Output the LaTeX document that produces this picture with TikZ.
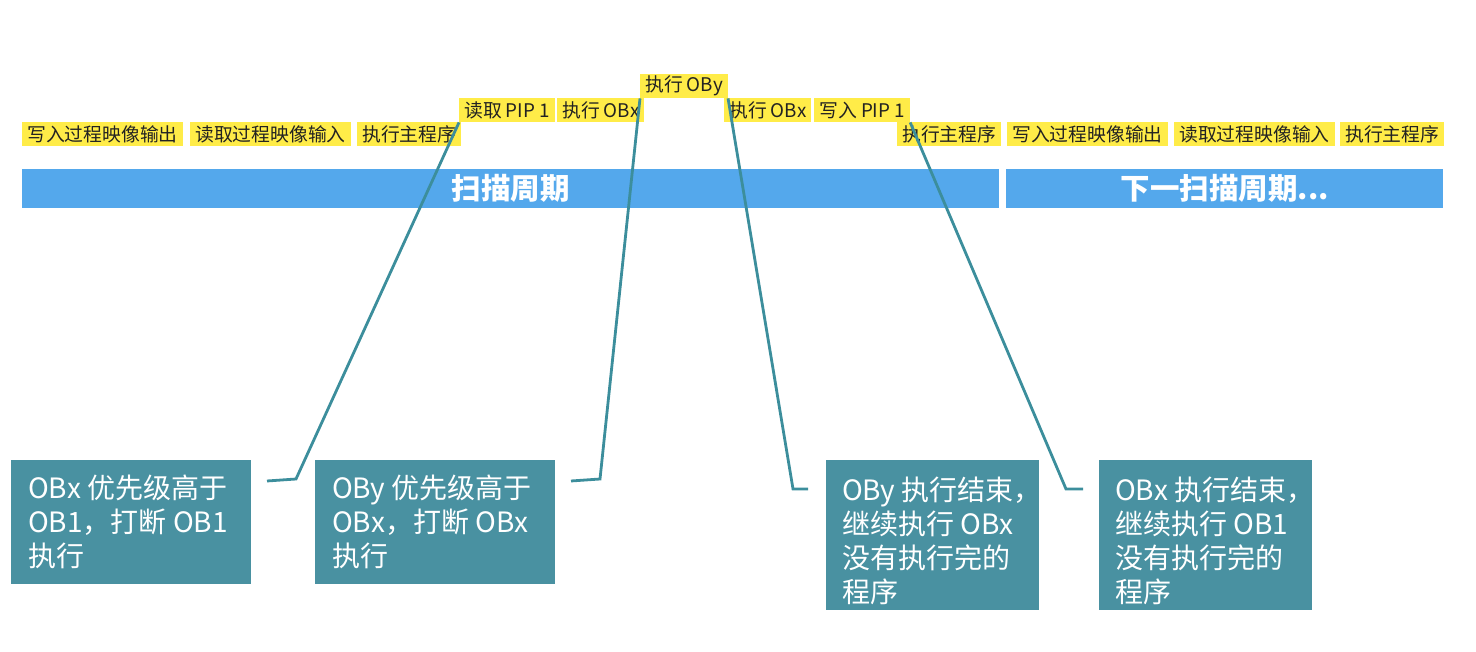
\documentclass[tikz,border=0pt]{standalone}
\usepackage{fontspec}
\setmainfont{Noto Sans CJK SC}
\begin{document}
\begin{tikzpicture}[x=1pt, y=-1pt, font=\fontsize{18.8}{22}\selectfont]

			% ==========================================
			% 1. COLOURS
			% ==========================================
			\definecolor{tagcol}{RGB}{255, 236, 72}     % yellow step tags
			\definecolor{barcol}{RGB}{84, 168, 236}     % blue cycle bars
			\definecolor{notecol}{RGB}{73, 145, 161}    % teal note boxes
			\definecolor{linecol}{RGB}{60, 142, 156}    % teal callout lines
			\definecolor{tagtext}{RGB}{34, 34, 34}

			% ==========================================
			% 2. STYLES
			% ==========================================
			\tikzset{
				tag/.style={fill=tagcol, text=tagtext, anchor=north west, inner xsep=5pt, inner ysep=0pt, minimum height=24pt},
				cyclebar/.style={fill=barcol, text=white, anchor=north west, minimum height=39pt, inner sep=0pt, font=\fontsize{29.5}{32}\selectfont\bfseries},
				notebox/.style={fill=notecol, anchor=north west, inner sep=0pt},
				notetext/.style={text=white, anchor=north west, align=left, inner sep=0pt, font=\fontsize{28}{34}\selectfont},
				callout/.style={draw=linecol, line width=2.8pt}
			}

			\useasboundingbox (0,0) rectangle (1476,652);

			% ==========================================
			% 3. STEP TAGS
			% ==========================================
			% lower row
			\node[tag] (wroutA) at (22,122) {写入过程映像输出};
			\node[tag] (rdinA) at (190,122) {读取过程映像输入};
			\node[tag] (mainA) at (357,122) {执行主程序};
			\node[tag] (mainB) at (897,122) {执行主程序};
			\node[tag] (wroutB) at (1007,122) {写入过程映像输出};
			\node[tag] (rdinB) at (1174,122) {读取过程映像输入};
			\node[tag] (mainC) at (1340,122) {执行主程序};

			% middle row
			\node[tag] (rdpip) at (459,98) {读取 PIP 1};
			\node[tag] (obxA) at (557,98) {执行 OBx};
			\node[tag] (obxB) at (724,98) {执行 OBx};
			\node[tag] (wrpip) at (814,98) {写入 PIP 1};

			% upper row
			\node[tag] (oby) at (640,74) {执行 OBy};

			% ==========================================
			% 4. CYCLE BARS
			% ==========================================
			\node[cyclebar, minimum width=977pt] (scan) at (22,169) {扫描周期};
			\node[cyclebar, minimum width=437pt] (nextscan) at (1006,169) {下一扫描周期...};

			% ==========================================
			% 5. NOTE BOXES
			% ==========================================
			\node[notebox, minimum width=240pt, minimum height=124pt] (noteA) at (11,460) {};
			\node[notebox, minimum width=240pt, minimum height=124pt] (noteB) at (315,460) {};
			\node[notebox, minimum width=213pt, minimum height=150pt] (noteC) at (826,460) {};
			\node[notebox, minimum width=213pt, minimum height=150pt] (noteD) at (1099,460) {};

			\node[notetext] (noteAtext) at ([xshift=17pt, yshift=-15pt]noteA.north west) {OBx 优先级高于\\OB1，打断 OB1\\执行};
			\node[notetext] (noteBtext) at ([xshift=17pt, yshift=-15pt]noteB.north west) {OBy 优先级高于\\OBx，打断 OBx\\执行};
			\node[notetext] (noteCtext) at ([xshift=16pt, yshift=-17pt]noteC.north west) {OBy 执行结束，\\继续执行 OBx\\没有执行完的\\程序};
			\node[notetext] (noteDtext) at ([xshift=16pt, yshift=-17pt]noteD.north west) {OBx 执行结束，\\继续执行 OB1\\没有执行完的\\程序};

			% ==========================================
			% 6. CALLOUT LINES
			% ==========================================
			\coordinate (bendA) at (296,479);
			\coordinate (tipA) at (267,481);
			\coordinate (bendB) at (600,479);
			\coordinate (tipB) at (571,481);
			\coordinate (bendC) at (793,489);
			\coordinate (tipC) at (808,489);
			\coordinate (bendD) at (1066,489);
			\coordinate (tipD) at (1083,489);

			\draw[callout] (rdpip.south west) -- (bendA) -- (tipA);
			\draw[callout] (oby.south west) -- (bendB) -- (tipB);
			\draw[callout] (oby.south east) -- (bendC) -- (tipC);
			\draw[callout] (wrpip.south east) -- (bendD) -- (tipD);

\end{tikzpicture}
\end{document}
